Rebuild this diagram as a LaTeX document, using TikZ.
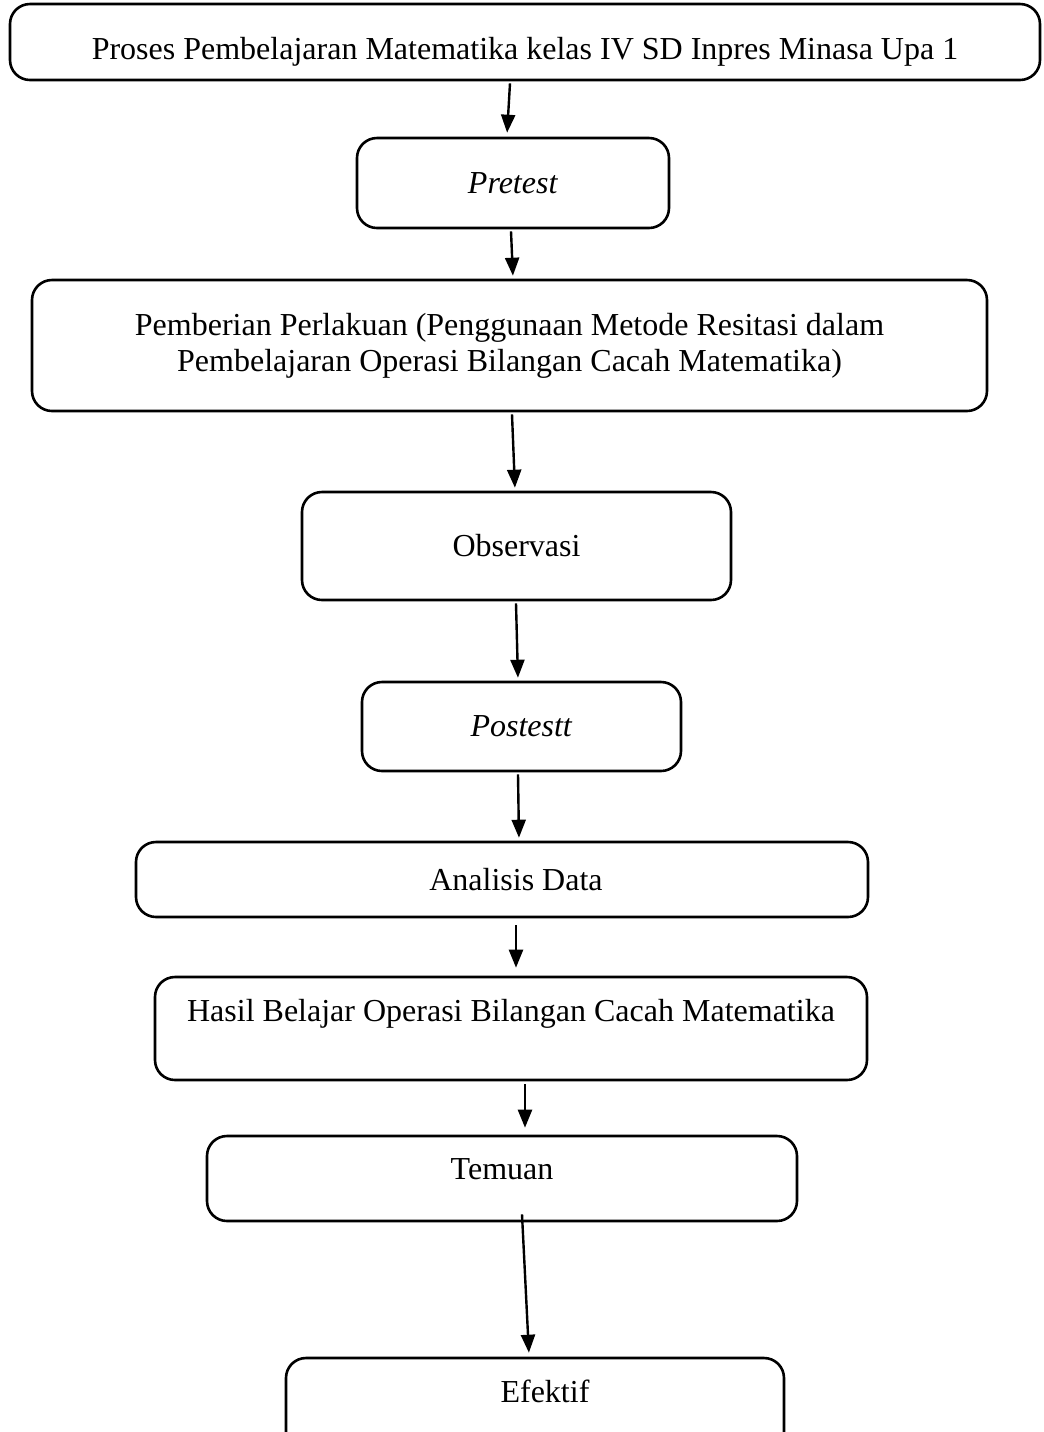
\documentclass[tikz,border=0pt]{standalone}
\usepackage{fontspec}
\setmainfont{Liberation Serif}
\usetikzlibrary{arrows.meta,positioning,calc}

\begin{document}
\begin{tikzpicture}[x=0.5pt,y=-0.5pt,shorten >=1pt,
  box/.style={draw,line width=1.3pt,rounded corners=10pt,align=center,inner sep=0pt,
    font=\fontsize{16}{18}\selectfont}]
\tikzset{>={Triangle[length=9pt,width=7pt]}}
\useasboundingbox (0,0) rectangle (1044,1432);
  \node[box,minimum width=515pt,minimum height=38pt,text height=21pt,text depth=3.5pt] (proses) at (525,42)
    {Proses Pembelajaran Matematika kelas IV SD Inpres Minasa Upa 1};
  \node[box,minimum width=156pt,minimum height=45pt] (pretest) at (513,183) {\textit{Pretest}};
  \node[box,minimum width=477.5pt,minimum height=65.5pt] (perlakuan) at (509.5,345.5)
    {Pemberian Perlakuan (Penggunaan Metode Resitasi dalam\\
     Pembelajaran Operasi Bilangan Cacah Matematika)};
  \node[box,minimum width=214.5pt,minimum height=54pt] (observasi) at (516.5,546) {Observasi};
  \node[box,minimum width=159.5pt,minimum height=44.5pt] (postest) at (521.5,726.5) {\textit{Postestt}};
  \node[box,minimum width=366pt,minimum height=37.5pt] (analisis) at (502,879.5) {\hspace*{14pt}Analisis Data};
  \node[box,minimum width=356pt,minimum height=51.5pt] (hasil) at (511,1028.5)
    {Hasil Belajar Operasi Bilangan Cacah Matematika\\ ~};
  \node[box,minimum width=295pt,minimum height=42.5pt,text height=11pt,text depth=10pt] (temuan) at (502,1178.5) {Temuan};
  \node[box,minimum width=249pt,minimum height=51pt] (efektif) at (535,1409) {\hspace*{10pt}Efektif\\ ~};
  % arrows
  \begin{scope}[line width=1.2pt]
  \draw[->] ($(proses.south)+(-15,2)$) -- ($(pretest.north)+(-6,-2)$);
  \draw[->] ($(pretest.south)+(-2,2)$) -- ($(perlakuan.north)+(3.5,-1)$);
  \draw[->] ($(perlakuan.south)+(2.5,2)$) -- ($(observasi.north)+(-1.5,-1)$);
  \draw[->] ($(observasi.south)+(-0.5,2)$) -- ($(postest.north)+(-3.5,-1)$);
  \draw[->] ($(postest.south)+(-3.5,2)$) -- ($(analisis.north)+(17,-1)$);
  \draw[->] ($(analisis.south)+(14,7)$) -- ($(hasil.north)+(5,-6)$);
  \draw[->] ($(hasil.south)+(14,3)$) -- ($(temuan.north)+(23,-5)$);
  \draw[->] ($(temuan.south)+(20,-8)$) -- ($(efektif.north)+(-6,-2)$);
  \end{scope}
\end{tikzpicture}
\end{document}
